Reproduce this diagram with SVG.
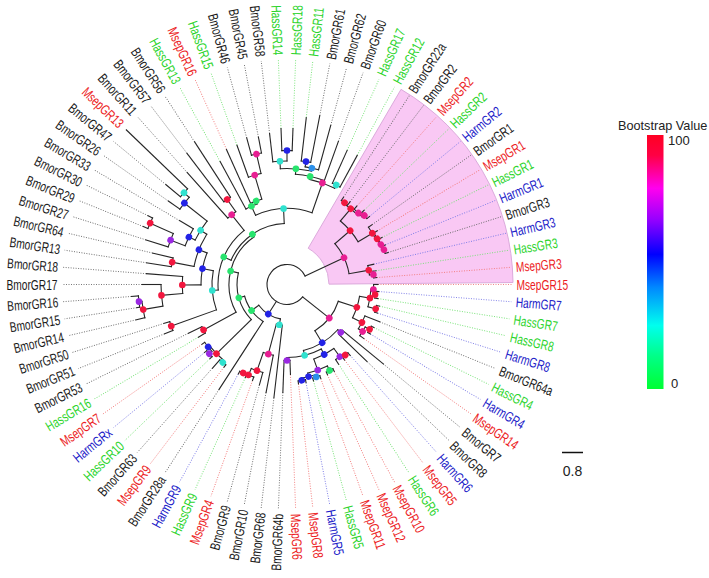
<svg xmlns="http://www.w3.org/2000/svg" width="709" height="578" viewBox="0 0 709 578">
<defs>
<linearGradient id="bs" x1="0" y1="0" x2="0" y2="1">
<stop offset="0" stop-color="#ff0022"/>
<stop offset="0.08" stop-color="#ff0044"/>
<stop offset="0.21" stop-color="#ff00ee"/>
<stop offset="0.33" stop-color="#9900ff"/>
<stop offset="0.47" stop-color="#0000ff"/>
<stop offset="0.6" stop-color="#0088ff"/>
<stop offset="0.75" stop-color="#00ffee"/>
<stop offset="0.87" stop-color="#00ff88"/>
<stop offset="1" stop-color="#00ff33"/>
</linearGradient>
<style>
text{font-family:"Liberation Sans",Arial,sans-serif}
.lab text{font-size:14px}
.tB{fill:#1a1a1a}.tM{fill:#ec1c24}.tH{fill:#2cd42c}.tA{fill:#2020c8}
.e{text-anchor:end}
.r{fill:#f2163e}.m{fill:#e81e92}.p{fill:#9a28e2}.b{fill:#2323e6}.l{fill:#2b90ea}.c{fill:#30e2cf}.g{fill:#28e46e}
.dl path{fill:none;stroke-width:.9;stroke-dasharray:1 1.5}
.dB{stroke:#6a6a6a}.dM{stroke:#f27a7a}.dH{stroke:#74e274}.dA{stroke:#7b7be6}
.a{fill:none}
</style>
</defs>
<rect width="709" height="578" fill="#fff"/>
<g transform="translate(287 284.5)">
<path id="highlight" d="M21.19 -36.26 L114.02 -195.13 A226 226 0 0 1 225.99 -1.97 L42 -0.37 A42 42 0 0 0 21.19 -36.26Z" fill="#f9c8f4" stroke="#dcaadc" stroke-width="1"/>
<g class="dl" id="tip-lines">
<path class="dM" d="M91 0H225"/>
<path class="dA" d="M92 0H225" transform="rotate(4.39)"/>
<path class="dH" d="M92 0H225" transform="rotate(8.78)"/>
<path class="dH" d="M95 0H225" transform="rotate(13.17)"/>
<path class="dA" d="M95 0H225" transform="rotate(17.56)"/>
<path class="dB" d="M100 0H225" transform="rotate(21.95)"/>
<path class="dH" d="M97 0H225" transform="rotate(26.34)"/>
<path class="dA" d="M97 0H225" transform="rotate(30.73)"/>
<path class="dM" d="M94 0H225" transform="rotate(35.12)"/>
<path class="dB" d="M125 0H225" transform="rotate(39.51)"/>
<path class="dB" d="M111 0H225" transform="rotate(43.9)"/>
<path class="dA" d="M95 0H225" transform="rotate(48.29)"/>
<path class="dM" d="M95 0H225" transform="rotate(52.68)"/>
<path class="dH" d="M95 0H225" transform="rotate(57.07)"/>
<path class="dM" d="M99 0H225" transform="rotate(61.46)"/>
<path class="dM" d="M99 0H225" transform="rotate(65.85)"/>
<path class="dM" d="M100 0H225" transform="rotate(70.24)"/>
<path class="dH" d="M100 0H225" transform="rotate(74.63)"/>
<path class="dA" d="M100 0H225" transform="rotate(79.02)"/>
<path class="dM" d="M100 0H225" transform="rotate(83.41)"/>
<path class="dM" d="M90 0H225" transform="rotate(87.8)"/>
<path class="dB" d="M108 0H225" transform="rotate(92.2)"/>
<path class="dB" d="M114 0H225" transform="rotate(96.59)"/>
<path class="dB" d="M110 0H225" transform="rotate(100.98)"/>
<path class="dB" d="M104 0H225" transform="rotate(105.37)"/>
<path class="dM" d="M102 0H225" transform="rotate(109.76)"/>
<path class="dH" d="M102 0H225" transform="rotate(114.15)"/>
<path class="dA" d="M102 0H225" transform="rotate(118.54)"/>
<path class="dB" d="M125 0H225" transform="rotate(122.93)"/>
<path class="dM" d="M104 0H225" transform="rotate(127.32)"/>
<path class="dB" d="M112 0H225" transform="rotate(131.71)"/>
<path class="dH" d="M107 0H225" transform="rotate(136.1)"/>
<path class="dA" d="M107 0H225" transform="rotate(140.49)"/>
<path class="dM" d="M104 0H225" transform="rotate(144.88)"/>
<path class="dH" d="M103 0H225" transform="rotate(149.27)"/>
<path class="dB" d="M110 0H225" transform="rotate(153.66)"/>
<path class="dB" d="M132 0H225" transform="rotate(158.05)"/>
<path class="dB" d="M129 0H225" transform="rotate(162.44)"/>
<path class="dB" d="M155 0H225" transform="rotate(166.83)"/>
<path class="dB" d="M152 0H225" transform="rotate(171.22)"/>
<path class="dB" d="M156 0H225" transform="rotate(175.61)"/>
<path class="dB" d="M145 0H225" transform="rotate(180)"/>
<path class="dB" d="M141 0H225" transform="rotate(184.39)"/>
<path class="dB" d="M142 0H225" transform="rotate(188.78)"/>
<path class="dB" d="M138 0H225" transform="rotate(193.17)"/>
<path class="dB" d="M148 0H225" transform="rotate(197.56)"/>
<path class="dB" d="M155 0H225" transform="rotate(201.95)"/>
<path class="dB" d="M155 0H225" transform="rotate(206.34)"/>
<path class="dB" d="M125 0H225" transform="rotate(210.73)"/>
<path class="dB" d="M145 0H225" transform="rotate(215.12)"/>
<path class="dB" d="M157 0H225" transform="rotate(219.51)"/>
<path class="dB" d="M150 0H225" transform="rotate(228.29)"/>
<path class="dB" d="M165 0H225" transform="rotate(232.68)"/>
<path class="dB" d="M170 0H225" transform="rotate(237.07)"/>
<path class="dH" d="M140 0H225" transform="rotate(241.46)"/>
<path class="dM" d="M148 0H225" transform="rotate(245.85)"/>
<path class="dH" d="M148 0H225" transform="rotate(250.24)"/>
<path class="dB" d="M152 0H225" transform="rotate(254.63)"/>
<path class="dB" d="M150 0H225" transform="rotate(259.02)"/>
<path class="dB" d="M152 0H225" transform="rotate(263.42)"/>
<path class="dH" d="M156 0H225" transform="rotate(267.8)"/>
<path class="dH" d="M156 0H225" transform="rotate(272.2)"/>
<path class="dH" d="M168 0H225" transform="rotate(276.59)"/>
<path class="dB" d="M172 0H225" transform="rotate(280.98)"/>
<path class="dB" d="M165 0H225" transform="rotate(285.37)"/>
<path class="dB" d="M152 0H225" transform="rotate(289.76)"/>
<path class="dH" d="M147 0H225" transform="rotate(294.15)"/>
<path class="dH" d="M147 0H225" transform="rotate(298.54)"/>
<path class="dB" d="M104 0H225" transform="rotate(302.93)"/>
<path class="dB" d="M104 0H225" transform="rotate(307.32)"/>
<path class="dM" d="M105 0H225" transform="rotate(311.71)"/>
<path class="dH" d="M107 0H225" transform="rotate(316.1)"/>
<path class="dA" d="M107 0H225" transform="rotate(320.49)"/>
<path class="dB" d="M104 0H225" transform="rotate(324.88)"/>
<path class="dM" d="M105 0H225" transform="rotate(329.27)"/>
<path class="dH" d="M106 0H225" transform="rotate(333.66)"/>
<path class="dA" d="M106 0H225" transform="rotate(338.05)"/>
<path class="dB" d="M106 0H225" transform="rotate(342.44)"/>
<path class="dA" d="M89 0H225" transform="rotate(346.83)"/>
<path class="dH" d="M90 0H225" transform="rotate(351.22)"/>
<path class="dM" d="M90 0H225" transform="rotate(355.61)"/>
</g>
<g id="connectors" fill="none" stroke="#262626" stroke-width="1.1" stroke-linecap="square">
<circle class="a" r="20" pathLength="360" stroke-dasharray="296.34 400" transform="rotate(38.48)"/>
<circle class="a" r="54" pathLength="360" stroke-dasharray="40.75 400" transform="rotate(18.11)"/>
<circle class="a" r="73.5" pathLength="360" stroke-dasharray="17.56 400" transform="rotate(9.33)"/>
<circle class="a" r="84" pathLength="360" stroke-dasharray="12.07 400" transform="rotate(3.29)"/>
<circle class="a" r="86.6" pathLength="360" stroke-dasharray="6.59 400"/>
<circle class="a" r="88.7" pathLength="360" stroke-dasharray="4.39 400" transform="rotate(4.39)"/>
<circle class="a" r="92" pathLength="360" stroke-dasharray="4.39 400" transform="rotate(13.17)"/>
<circle class="a" r="84" pathLength="360" stroke-dasharray="9.88 400" transform="rotate(21.95)"/>
<circle class="a" r="89" pathLength="360" stroke-dasharray="6.59 400" transform="rotate(28.54)"/>
<circle class="a" r="94" pathLength="360" stroke-dasharray="4.39 400" transform="rotate(26.34)"/>
<circle class="a" r="68" pathLength="360" stroke-dasharray="34.29 400" transform="rotate(41.71)"/>
<circle class="a" r="72" pathLength="360" stroke-dasharray="4.39 400" transform="rotate(39.51)"/>
<circle class="a" r="73" pathLength="360" stroke-dasharray="27.99 400" transform="rotate(62.01)"/>
<circle class="a" r="79.3" pathLength="360" stroke-dasharray="16.46 400" transform="rotate(53.78)"/>
<circle class="a" r="89.5" pathLength="360" stroke-dasharray="6.58 400" transform="rotate(50.49)"/>
<circle class="a" r="91.5" pathLength="360" stroke-dasharray="4.39 400" transform="rotate(48.29)"/>
<circle class="a" r="91" pathLength="360" stroke-dasharray="13.17 400" transform="rotate(63.66)"/>
<circle class="a" r="96" pathLength="360" stroke-dasharray="4.39 400" transform="rotate(61.46)"/>
<circle class="a" r="94.6" pathLength="360" stroke-dasharray="8.78 400" transform="rotate(72.44)"/>
<circle class="a" r="97" pathLength="360" stroke-dasharray="4.39 400" transform="rotate(70.24)"/>
<circle class="a" r="97" pathLength="360" stroke-dasharray="4.39 400" transform="rotate(79.02)"/>
<circle class="a" r="76" pathLength="360" stroke-dasharray="4.39 400" transform="rotate(87.8)"/>
<circle class="a" r="35" pathLength="360" stroke-dasharray="42.87 400" transform="rotate(100.84)"/>
<circle class="a" r="41" pathLength="360" stroke-dasharray="8.5 400" transform="rotate(96.59)"/>
<circle class="a" r="72" pathLength="360" stroke-dasharray="8.23 400" transform="rotate(100.98)"/>
<circle class="a" r="91.2" pathLength="360" stroke-dasharray="7.68 400" transform="rotate(105.37)"/>
<circle class="a" r="98.3" pathLength="360" stroke-dasharray="6.58 400" transform="rotate(109.76)"/>
<circle class="a" r="98.8" pathLength="360" stroke-dasharray="4.39 400" transform="rotate(114.15)"/>
<circle class="a" r="44" pathLength="360" stroke-dasharray="41.57 400" transform="rotate(122.93)"/>
<circle class="a" r="50" pathLength="360" stroke-dasharray="57.91 400" transform="rotate(135.55)"/>
<circle class="a" r="98.8" pathLength="360" stroke-dasharray="12.07 400" transform="rotate(129.51)"/>
<circle class="a" r="101" pathLength="360" stroke-dasharray="4.39 400" transform="rotate(127.32)"/>
<circle class="a" r="100.6" pathLength="360" stroke-dasharray="6.59 400" transform="rotate(138.29)"/>
<circle class="a" r="104" pathLength="360" stroke-dasharray="4.39 400" transform="rotate(136.1)"/>
<circle class="a" r="58" pathLength="360" stroke-dasharray="83.99 400" transform="rotate(151.46)"/>
<circle class="a" r="95" pathLength="360" stroke-dasharray="4.39 400" transform="rotate(149.27)"/>
<circle class="a" r="61" pathLength="360" stroke-dasharray="63.89 400" transform="rotate(203.51)"/>
<circle class="a" r="69" pathLength="360" stroke-dasharray="56.15 400" transform="rotate(175.44)"/>
<circle class="a" r="75" pathLength="360" stroke-dasharray="30.39 400" transform="rotate(160.24)"/>
<circle class="a" r="123" pathLength="360" stroke-dasharray="4.39 400" transform="rotate(158.05)"/>
<circle class="a" r="86" pathLength="360" stroke-dasharray="21.81 400" transform="rotate(179.73)"/>
<circle class="a" r="104.7" pathLength="360" stroke-dasharray="9.33 400" transform="rotate(175.06)"/>
<circle class="a" r="126" pathLength="360" stroke-dasharray="9.88 400" transform="rotate(170.12)"/>
<circle class="a" r="146" pathLength="360" stroke-dasharray="6.58 400" transform="rotate(166.83)"/>
<circle class="a" r="149" pathLength="360" stroke-dasharray="4.39 400" transform="rotate(171.22)"/>
<circle class="a" r="94.7" pathLength="360" stroke-dasharray="21.12 400" transform="rotate(190.98)"/>
<circle class="a" r="117" pathLength="360" stroke-dasharray="4.39 400" transform="rotate(188.78)"/>
<circle class="a" r="102" pathLength="360" stroke-dasharray="12.63 400" transform="rotate(205.79)"/>
<circle class="a" r="109" pathLength="360" stroke-dasharray="9.88 400" transform="rotate(200.85)"/>
<circle class="a" r="124.6" pathLength="360" stroke-dasharray="6.59 400" transform="rotate(197.56)"/>
<circle class="a" r="150" pathLength="360" stroke-dasharray="4.39 400" transform="rotate(201.95)"/>
<circle class="a" r="131" pathLength="360" stroke-dasharray="6.59 400" transform="rotate(215.12)"/>
<circle class="a" r="138" pathLength="360" stroke-dasharray="4.39 400" transform="rotate(219.51)"/>
<circle class="a" r="89" pathLength="360" stroke-dasharray="6.59 400" transform="rotate(228.29)"/>
<circle class="a" r="104" pathLength="360" stroke-dasharray="4.39 400" transform="rotate(232.68)"/>
<circle class="a" r="76" pathLength="360" stroke-dasharray="43.63 400" transform="rotate(245.58)"/>
<circle class="a" r="86" pathLength="360" stroke-dasharray="8.24 400" transform="rotate(241.46)"/>
<circle class="a" r="89" pathLength="360" stroke-dasharray="7.69 400" transform="rotate(245.85)"/>
<circle class="a" r="114" pathLength="360" stroke-dasharray="6.59 400" transform="rotate(250.24)"/>
<circle class="a" r="134" pathLength="360" stroke-dasharray="4.39 400" transform="rotate(254.63)"/>
<circle class="a" r="107.5" pathLength="360" stroke-dasharray="14.27 400" transform="rotate(282.07)"/>
<circle class="a" r="110.5" pathLength="360" stroke-dasharray="15.37 400" transform="rotate(274.39)"/>
<circle class="a" r="116" pathLength="360" stroke-dasharray="15.36 400" transform="rotate(266.71)"/>
<circle class="a" r="123.5" pathLength="360" stroke-dasharray="6.58 400" transform="rotate(263.42)"/>
<circle class="a" r="134" pathLength="360" stroke-dasharray="4.39 400" transform="rotate(267.8)"/>
<circle class="a" r="119" pathLength="360" stroke-dasharray="6.59 400" transform="rotate(278.78)"/>
<circle class="a" r="124.4" pathLength="360" stroke-dasharray="4.39 400" transform="rotate(276.59)"/>
<circle class="a" r="111" pathLength="360" stroke-dasharray="4.39 400" transform="rotate(294.15)"/>
<circle class="a" r="63" pathLength="360" stroke-dasharray="30.59 400" transform="rotate(319.53)"/>
<circle class="a" r="83" pathLength="360" stroke-dasharray="18.93 400" transform="rotate(310.06)"/>
<circle class="a" r="99" pathLength="360" stroke-dasharray="9.88 400" transform="rotate(305.12)"/>
<circle class="a" r="100" pathLength="360" stroke-dasharray="4.39 400" transform="rotate(302.93)"/>
<circle class="a" r="101" pathLength="360" stroke-dasharray="6.58 400" transform="rotate(311.71)"/>
<circle class="a" r="103.6" pathLength="360" stroke-dasharray="4.39 400" transform="rotate(316.1)"/>
<circle class="a" r="99.6" pathLength="360" stroke-dasharray="8.23 400" transform="rotate(324.88)"/>
<circle class="a" r="101" pathLength="360" stroke-dasharray="7.68 400" transform="rotate(329.27)"/>
<circle class="a" r="102" pathLength="360" stroke-dasharray="6.58 400" transform="rotate(333.66)"/>
<circle class="a" r="103" pathLength="360" stroke-dasharray="4.39 400" transform="rotate(338.05)"/>
<circle class="a" r="83" pathLength="360" stroke-dasharray="6.58 400" transform="rotate(346.83)"/>
<circle class="a" r="87" pathLength="360" stroke-dasharray="4.39 400" transform="rotate(351.22)"/>
<path d="M20 0H54" transform="rotate(38.48)"/>
<path d="M20 0H35" transform="rotate(122.28)"/>
<path d="M20 0H63" transform="rotate(334.82)"/>
<path d="M54 0H73.5" transform="rotate(18.11)"/>
<path d="M54 0H68" transform="rotate(58.86)"/>
<path d="M73.5 0H84" transform="rotate(9.33)"/>
<path d="M73.5 0H84" transform="rotate(26.89)"/>
<path d="M84 0H86.6" transform="rotate(3.29)"/>
<path d="M84 0H92" transform="rotate(15.37)"/>
<path d="M86.6 0H91"/>
<path d="M86.6 0H88.7" transform="rotate(6.59)"/>
<path d="M88.7 0H92" transform="rotate(4.39)"/>
<path d="M88.7 0H92" transform="rotate(8.78)"/>
<path d="M92 0H95" transform="rotate(13.17)"/>
<path d="M92 0H95" transform="rotate(17.56)"/>
<path d="M84 0H100" transform="rotate(21.95)"/>
<path d="M84 0H89" transform="rotate(31.83)"/>
<path d="M89 0H94" transform="rotate(28.54)"/>
<path d="M89 0H94" transform="rotate(35.12)"/>
<path d="M94 0H97" transform="rotate(26.34)"/>
<path d="M94 0H97" transform="rotate(30.73)"/>
<path d="M68 0H72" transform="rotate(41.71)"/>
<path d="M68 0H73" transform="rotate(76)"/>
<path d="M72 0H125" transform="rotate(39.51)"/>
<path d="M72 0H111" transform="rotate(43.9)"/>
<path d="M73 0H79.3" transform="rotate(62.01)"/>
<path d="M73 0H76" transform="rotate(90)"/>
<path d="M79.3 0H89.5" transform="rotate(53.78)"/>
<path d="M79.3 0H91" transform="rotate(70.24)"/>
<path d="M89.5 0H91.5" transform="rotate(50.49)"/>
<path d="M89.5 0H95" transform="rotate(57.07)"/>
<path d="M91.5 0H95" transform="rotate(48.29)"/>
<path d="M91.5 0H95" transform="rotate(52.68)"/>
<path d="M91 0H96" transform="rotate(63.66)"/>
<path d="M91 0H94.6" transform="rotate(76.83)"/>
<path d="M96 0H99" transform="rotate(61.46)"/>
<path d="M96 0H99" transform="rotate(65.85)"/>
<path d="M94.6 0H97" transform="rotate(72.44)"/>
<path d="M94.6 0H97" transform="rotate(81.22)"/>
<path d="M97 0H100" transform="rotate(70.24)"/>
<path d="M97 0H100" transform="rotate(74.63)"/>
<path d="M97 0H100" transform="rotate(79.02)"/>
<path d="M97 0H100" transform="rotate(83.41)"/>
<path d="M76 0H90" transform="rotate(87.8)"/>
<path d="M76 0H108" transform="rotate(92.2)"/>
<path d="M35 0H41" transform="rotate(100.84)"/>
<path d="M35 0H44" transform="rotate(143.71)"/>
<path d="M41 0H114" transform="rotate(96.59)"/>
<path d="M41 0H72" transform="rotate(105.09)"/>
<path d="M72 0H110" transform="rotate(100.98)"/>
<path d="M72 0H91.2" transform="rotate(109.21)"/>
<path d="M91.2 0H104" transform="rotate(105.37)"/>
<path d="M91.2 0H98.3" transform="rotate(113.05)"/>
<path d="M98.3 0H102" transform="rotate(109.76)"/>
<path d="M98.3 0H98.8" transform="rotate(116.34)"/>
<path d="M98.8 0H102" transform="rotate(114.15)"/>
<path d="M98.8 0H102" transform="rotate(118.54)"/>
<path d="M44 0H125" transform="rotate(122.93)"/>
<path d="M44 0H50" transform="rotate(164.5)"/>
<path d="M50 0H98.8" transform="rotate(135.55)"/>
<path d="M50 0H58" transform="rotate(193.46)"/>
<path d="M98.8 0H101" transform="rotate(129.51)"/>
<path d="M98.8 0H100.6" transform="rotate(141.58)"/>
<path d="M101 0H104" transform="rotate(127.32)"/>
<path d="M101 0H112" transform="rotate(131.71)"/>
<path d="M100.6 0H104" transform="rotate(138.29)"/>
<path d="M100.6 0H104" transform="rotate(144.88)"/>
<path d="M104 0H107" transform="rotate(136.1)"/>
<path d="M104 0H107" transform="rotate(140.49)"/>
<path d="M58 0H95" transform="rotate(151.46)"/>
<path d="M58 0H61" transform="rotate(235.45)"/>
<path d="M95 0H103" transform="rotate(149.27)"/>
<path d="M95 0H110" transform="rotate(153.66)"/>
<path d="M61 0H69" transform="rotate(203.51)"/>
<path d="M61 0H76" transform="rotate(267.4)"/>
<path d="M69 0H75" transform="rotate(175.44)"/>
<path d="M69 0H89" transform="rotate(231.59)"/>
<path d="M75 0H123" transform="rotate(160.24)"/>
<path d="M75 0H86" transform="rotate(190.63)"/>
<path d="M123 0H132" transform="rotate(158.05)"/>
<path d="M123 0H129" transform="rotate(162.44)"/>
<path d="M86 0H104.7" transform="rotate(179.73)"/>
<path d="M86 0H94.7" transform="rotate(201.54)"/>
<path d="M104.7 0H126" transform="rotate(175.06)"/>
<path d="M104.7 0H141" transform="rotate(184.39)"/>
<path d="M126 0H146" transform="rotate(170.12)"/>
<path d="M126 0H145" transform="rotate(180)"/>
<path d="M146 0H155" transform="rotate(166.83)"/>
<path d="M146 0H149" transform="rotate(173.41)"/>
<path d="M149 0H152" transform="rotate(171.22)"/>
<path d="M149 0H156" transform="rotate(175.61)"/>
<path d="M94.7 0H117" transform="rotate(190.98)"/>
<path d="M94.7 0H102" transform="rotate(212.1)"/>
<path d="M117 0H142" transform="rotate(188.78)"/>
<path d="M117 0H138" transform="rotate(193.17)"/>
<path d="M102 0H109" transform="rotate(205.79)"/>
<path d="M102 0H131" transform="rotate(218.42)"/>
<path d="M109 0H124.6" transform="rotate(200.85)"/>
<path d="M109 0H125" transform="rotate(210.73)"/>
<path d="M124.6 0H148" transform="rotate(197.56)"/>
<path d="M124.6 0H150" transform="rotate(204.15)"/>
<path d="M150 0H155" transform="rotate(201.95)"/>
<path d="M150 0H155" transform="rotate(206.34)"/>
<path d="M131 0H145" transform="rotate(215.12)"/>
<path d="M131 0H138" transform="rotate(221.71)"/>
<path d="M138 0H157" transform="rotate(219.51)"/>
<path d="M138 0H223" transform="rotate(223.9)"/>
<path d="M89 0H150" transform="rotate(228.29)"/>
<path d="M89 0H104" transform="rotate(234.88)"/>
<path d="M104 0H165" transform="rotate(232.68)"/>
<path d="M104 0H170" transform="rotate(237.07)"/>
<path d="M76 0H86" transform="rotate(245.58)"/>
<path d="M76 0H107.5" transform="rotate(289.21)"/>
<path d="M86 0H140" transform="rotate(241.46)"/>
<path d="M86 0H89" transform="rotate(249.7)"/>
<path d="M89 0H148" transform="rotate(245.85)"/>
<path d="M89 0H114" transform="rotate(253.54)"/>
<path d="M114 0H148" transform="rotate(250.24)"/>
<path d="M114 0H134" transform="rotate(256.83)"/>
<path d="M134 0H152" transform="rotate(254.63)"/>
<path d="M134 0H150" transform="rotate(259.02)"/>
<path d="M107.5 0H110.5" transform="rotate(282.07)"/>
<path d="M107.5 0H111" transform="rotate(296.34)"/>
<path d="M110.5 0H116" transform="rotate(274.39)"/>
<path d="M110.5 0H152" transform="rotate(289.76)"/>
<path d="M116 0H123.5" transform="rotate(266.71)"/>
<path d="M116 0H119" transform="rotate(282.07)"/>
<path d="M123.5 0H152" transform="rotate(263.42)"/>
<path d="M123.5 0H134" transform="rotate(270)"/>
<path d="M134 0H156" transform="rotate(267.8)"/>
<path d="M134 0H156" transform="rotate(272.2)"/>
<path d="M119 0H124.4" transform="rotate(278.78)"/>
<path d="M119 0H165" transform="rotate(285.37)"/>
<path d="M124.4 0H168" transform="rotate(276.59)"/>
<path d="M124.4 0H172" transform="rotate(280.98)"/>
<path d="M111 0H147" transform="rotate(294.15)"/>
<path d="M111 0H147" transform="rotate(298.54)"/>
<path d="M63 0H83" transform="rotate(319.53)"/>
<path d="M63 0H83" transform="rotate(350.12)"/>
<path d="M83 0H99" transform="rotate(310.06)"/>
<path d="M83 0H99.6" transform="rotate(328.99)"/>
<path d="M99 0H100" transform="rotate(305.12)"/>
<path d="M99 0H101" transform="rotate(315)"/>
<path d="M100 0H104" transform="rotate(302.93)"/>
<path d="M100 0H104" transform="rotate(307.32)"/>
<path d="M101 0H105" transform="rotate(311.71)"/>
<path d="M101 0H103.6" transform="rotate(318.29)"/>
<path d="M103.6 0H107" transform="rotate(316.1)"/>
<path d="M103.6 0H107" transform="rotate(320.49)"/>
<path d="M99.6 0H104" transform="rotate(324.88)"/>
<path d="M99.6 0H101" transform="rotate(333.11)"/>
<path d="M101 0H105" transform="rotate(329.27)"/>
<path d="M101 0H102" transform="rotate(336.95)"/>
<path d="M102 0H106" transform="rotate(333.66)"/>
<path d="M102 0H103" transform="rotate(340.24)"/>
<path d="M103 0H106" transform="rotate(338.05)"/>
<path d="M103 0H106" transform="rotate(342.44)"/>
<path d="M83 0H89" transform="rotate(346.83)"/>
<path d="M83 0H87" transform="rotate(353.41)"/>
<path d="M87 0H90" transform="rotate(351.22)"/>
<path d="M87 0H90" transform="rotate(355.61)"/>
</g>
<g id="bootstrap-nodes">
<g id="nQ0"><circle class="m" cx="54" r="3.3" transform="rotate(38.48)"/></g>
<g id="nQ1"><circle class="r" cx="73.5" r="3.3" transform="rotate(18.11)"/></g>
<g id="nQ1a"><circle class="r" cx="84" r="3.3" transform="rotate(9.33)"/></g>
<g id="nQ012"><circle class="m" cx="86.6" r="3.3" transform="rotate(3.29)"/></g>
<g id="nQ12"><circle class="r" cx="88.7" r="3.3" transform="rotate(6.59)"/></g>
<g id="nQ34"><circle class="r" cx="92" r="3.3" transform="rotate(15.37)"/></g>
<g id="nQ1b"><circle class="r" cx="84" r="3.3" transform="rotate(26.89)"/></g>
<g id="nQ678"><circle class="m" cx="89" r="3.3" transform="rotate(31.83)"/></g>
<g id="nQ67"><circle class="r" cx="94" r="3.3" transform="rotate(28.54)"/></g>
<g id="nQ2"><circle class="b" cx="68" r="3.3" transform="rotate(58.86)"/></g>
<g id="nQ2a"><circle class="p" cx="72" r="3.3" transform="rotate(41.71)"/></g>
<g id="nQ2b"><circle class="c" cx="73" r="3.3" transform="rotate(76)"/></g>
<g id="nB62"><circle class="b" cx="79.3" r="3.3" transform="rotate(62.01)"/></g>
<g id="nQ13"><circle class="p" cx="89.5" r="3.3" transform="rotate(53.78)"/></g>
<g id="nQ1112"><circle class="r" cx="91.5" r="3.3" transform="rotate(50.49)"/></g>
<g id="nP72"><circle class="p" cx="91" r="3.3" transform="rotate(70.24)"/></g>
<g id="nQ1415"><circle class="g" cx="96" r="3.3" transform="rotate(63.66)"/></g>
<g id="nCl"><circle class="b" cx="94.6" r="3.3" transform="rotate(76.83)"/></g>
<g id="nQ1617"><circle class="l" cx="97" r="3.3" transform="rotate(72.44)"/></g>
<g id="nQ1819"><circle class="b" cx="97" r="3.3" transform="rotate(81.22)"/></g>
<g id="nPu"><circle class="p" cx="76" r="3.3" transform="rotate(90)"/></g>
<g id="nN1"><circle class="b" cx="35" r="3.3" transform="rotate(122.28)"/></g>
<g id="nC1"><circle class="c" cx="41" r="3.3" transform="rotate(100.84)"/></g>
<g id="nMg2"><circle class="m" cx="72" r="3.3" transform="rotate(105.09)"/></g>
<g id="nRd"><circle class="r" cx="91.2" r="3.3" transform="rotate(109.21)"/></g>
<g id="nRx"><circle class="r" cx="98.3" r="3.3" transform="rotate(113.05)"/></g>
<g id="nRy"><circle class="r" cx="98.8" r="3.3" transform="rotate(116.34)"/></g>
<g id="nG1"><circle class="g" cx="44" r="3.3" transform="rotate(143.71)"/></g>
<g id="nG2"><circle class="g" cx="50" r="3.3" transform="rotate(164.5)"/></g>
<g id="nR135"><circle class="r" cx="98.8" r="3.3" transform="rotate(135.55)"/></g>
<g id="nCa"><circle class="c" cx="101" r="3.3" transform="rotate(129.51)"/></g>
<g id="nBa"><circle class="b" cx="100.6" r="3.3" transform="rotate(141.58)"/></g>
<g id="nPa2"><circle class="p" cx="104" r="3.3" transform="rotate(138.29)"/></g>
<g id="nG3"><circle class="g" cx="58" r="3.3" transform="rotate(193.46)"/></g>
<g id="nE"><circle class="r" cx="95" r="3.3" transform="rotate(151.46)"/></g>
<g id="nG5"><circle class="g" cx="61" r="3.3" transform="rotate(235.45)"/></g>
<g id="nG4"><circle class="g" cx="69" r="3.3" transform="rotate(203.51)"/></g>
<g id="nC2"><circle class="c" cx="75" r="3.3" transform="rotate(175.44)"/></g>
<g id="nF"><circle class="r" cx="123" r="3.3" transform="rotate(160.24)"/></g>
<g id="nB86"><circle class="b" cx="86" r="3.3" transform="rotate(190.63)"/></g>
<g id="nR179"><circle class="r" cx="104.7" r="3.3" transform="rotate(179.73)"/></g>
<g id="nR126"><circle class="r" cx="126" r="3.3" transform="rotate(175.06)"/></g>
<g id="nR146"><circle class="r" cx="146" r="3.3" transform="rotate(170.12)"/></g>
<g id="nPb2"><circle class="p" cx="149" r="3.3" transform="rotate(173.41)"/></g>
<g id="nB95"><circle class="b" cx="94.7" r="3.3" transform="rotate(201.54)"/></g>
<g id="nR117"><circle class="r" cx="117" r="3.3" transform="rotate(190.98)"/></g>
<g id="nC102"><circle class="c" cx="102" r="3.3" transform="rotate(212.1)"/></g>
<g id="nB109"><circle class="b" cx="109" r="3.3" transform="rotate(205.79)"/></g>
<g id="nP125"><circle class="p" cx="124.6" r="3.3" transform="rotate(200.85)"/></g>
<g id="nR150"><circle class="r" cx="150" r="3.3" transform="rotate(204.15)"/></g>
<g id="nB131"><circle class="b" cx="131" r="3.3" transform="rotate(218.42)"/></g>
<g id="nC138"><circle class="c" cx="138" r="3.3" transform="rotate(221.71)"/></g>
<g id="nR231"><circle class="m" cx="89" r="3.3" transform="rotate(231.59)"/></g>
<g id="nR235"><circle class="r" cx="104" r="3.3" transform="rotate(234.88)"/></g>
<g id="nT"><circle class="c" cx="76" r="3.3" transform="rotate(267.4)"/></g>
<g id="nG245"><circle class="g" cx="86" r="3.3" transform="rotate(245.58)"/></g>
<g id="nG250"><circle class="g" cx="89" r="3.3" transform="rotate(249.7)"/></g>
<g id="nK114"><circle class="m" cx="114" r="3.3" transform="rotate(253.54)"/></g>
<g id="nK134"><circle class="m" cx="134" r="3.3" transform="rotate(256.83)"/></g>
<g id="nM289"><circle class="m" cx="107.5" r="3.3" transform="rotate(289.21)"/></g>
<g id="nG282"><circle class="g" cx="110.5" r="3.3" transform="rotate(282.07)"/></g>
<g id="nG274"><circle class="g" cx="116" r="3.3" transform="rotate(274.39)"/></g>
<g id="nC267"><circle class="c" cx="123.5" r="3.3" transform="rotate(266.71)"/></g>
<g id="nB270"><circle class="b" cx="134" r="3.3" transform="rotate(270)"/></g>
<g id="nL282"><circle class="l" cx="119" r="3.3" transform="rotate(282.07)"/></g>
<g id="nB279"><circle class="b" cx="124.4" r="3.3" transform="rotate(278.78)"/></g>
<g id="nC296"><circle class="c" cx="111" r="3.3" transform="rotate(296.34)"/></g>
<g id="nP0"><circle class="m" cx="63" r="3.3" transform="rotate(334.82)"/></g>
<g id="nP1"><circle class="r" cx="83" r="3.3" transform="rotate(319.53)"/></g>
<g id="nPa"><circle class="r" cx="99" r="3.3" transform="rotate(310.06)"/></g>
<g id="nA1"><circle class="r" cx="100" r="3.3" transform="rotate(305.12)"/></g>
<g id="nA2"><circle class="m" cx="101" r="3.3" transform="rotate(315)"/></g>
<g id="nA3"><circle class="m" cx="103.6" r="3.3" transform="rotate(318.29)"/></g>
<g id="nPb"><circle class="r" cx="99.6" r="3.3" transform="rotate(328.99)"/></g>
<g id="nX"><circle class="r" cx="101" r="3.3" transform="rotate(333.11)"/></g>
<g id="nY"><circle class="m" cx="102" r="3.3" transform="rotate(336.95)"/></g>
<g id="nZ"><circle class="m" cx="103" r="3.3" transform="rotate(340.24)"/></g>
<g id="nP2"><circle class="r" cx="83" r="3.3" transform="rotate(350.12)"/></g>
<g id="nW"><circle class="m" cx="87" r="3.3" transform="rotate(353.41)"/></g>
</g>
<g class="lab" id="labels">
<g id="MsepGR15"><text class="tM" transform="rotate(0) translate(229.5 0) scale(.73 1)" dy=".36em">MsepGR15</text></g>
<g id="HarmGR7"><text class="tA" transform="rotate(4.39) translate(229.5 0) scale(.73 1)" dy=".36em">HarmGR7</text></g>
<g id="HassGR7"><text class="tH" transform="rotate(8.78) translate(229.5 0) scale(.73 1)" dy=".36em">HassGR7</text></g>
<g id="HassGR8"><text class="tH" transform="rotate(13.17) translate(229.5 0) scale(.73 1)" dy=".36em">HassGR8</text></g>
<g id="HarmGR8"><text class="tA" transform="rotate(17.56) translate(229.5 0) scale(.73 1)" dy=".36em">HarmGR8</text></g>
<g id="BmorGR64a"><text class="tB" transform="rotate(21.95) translate(229.5 0) scale(.73 1)" dy=".36em">BmorGR64a</text></g>
<g id="HassGR4"><text class="tH" transform="rotate(26.34) translate(229.5 0) scale(.73 1)" dy=".36em">HassGR4</text></g>
<g id="HarmGR4"><text class="tA" transform="rotate(30.73) translate(229.5 0) scale(.73 1)" dy=".36em">HarmGR4</text></g>
<g id="MsepGR14"><text class="tM" transform="rotate(35.12) translate(229.5 0) scale(.73 1)" dy=".36em">MsepGR14</text></g>
<g id="BmorGR7"><text class="tB" transform="rotate(39.51) translate(229.5 0) scale(.73 1)" dy=".36em">BmorGR7</text></g>
<g id="BmorGR8"><text class="tB" transform="rotate(43.9) translate(229.5 0) scale(.73 1)" dy=".36em">BmorGR8</text></g>
<g id="HarmGR6"><text class="tA" transform="rotate(48.29) translate(229.5 0) scale(.73 1)" dy=".36em">HarmGR6</text></g>
<g id="MsepGR5"><text class="tM" transform="rotate(52.68) translate(229.5 0) scale(.73 1)" dy=".36em">MsepGR5</text></g>
<g id="HassGR6"><text class="tH" transform="rotate(57.07) translate(229.5 0) scale(.73 1)" dy=".36em">HassGR6</text></g>
<g id="MsepGR10"><text class="tM" transform="rotate(61.46) translate(229.5 0) scale(.73 1)" dy=".36em">MsepGR10</text></g>
<g id="MsepGR12"><text class="tM" transform="rotate(65.85) translate(229.5 0) scale(.73 1)" dy=".36em">MsepGR12</text></g>
<g id="MsepGR11"><text class="tM" transform="rotate(70.24) translate(229.5 0) scale(.73 1)" dy=".36em">MsepGR11</text></g>
<g id="HassGR5"><text class="tH" transform="rotate(74.63) translate(229.5 0) scale(.73 1)" dy=".36em">HassGR5</text></g>
<g id="HarmGR5"><text class="tA" transform="rotate(79.02) translate(229.5 0) scale(.73 1)" dy=".36em">HarmGR5</text></g>
<g id="MsepGR8"><text class="tM" transform="rotate(83.41) translate(229.5 0) scale(.73 1)" dy=".36em">MsepGR8</text></g>
<g id="MsepGR6"><text class="tM" transform="rotate(87.8) translate(229.5 0) scale(.73 1)" dy=".36em">MsepGR6</text></g>
<g id="BmorGR64b"><text class="tB e" transform="rotate(92.2) translate(229.5 0) rotate(180) scale(.73 1)" dy=".36em">BmorGR64b</text></g>
<g id="BmorGR68"><text class="tB e" transform="rotate(96.59) translate(229.5 0) rotate(180) scale(.73 1)" dy=".36em">BmorGR68</text></g>
<g id="BmorGR10"><text class="tB e" transform="rotate(100.98) translate(229.5 0) rotate(180) scale(.73 1)" dy=".36em">BmorGR10</text></g>
<g id="BmorGR9"><text class="tB e" transform="rotate(105.37) translate(229.5 0) rotate(180) scale(.73 1)" dy=".36em">BmorGR9</text></g>
<g id="MsepGR4"><text class="tM e" transform="rotate(109.76) translate(229.5 0) rotate(180) scale(.73 1)" dy=".36em">MsepGR4</text></g>
<g id="HassGR9"><text class="tH e" transform="rotate(114.15) translate(229.5 0) rotate(180) scale(.73 1)" dy=".36em">HassGR9</text></g>
<g id="HarmGR9"><text class="tA e" transform="rotate(118.54) translate(229.5 0) rotate(180) scale(.73 1)" dy=".36em">HarmGR9</text></g>
<g id="BmorGR28a"><text class="tB e" transform="rotate(122.93) translate(229.5 0) rotate(180) scale(.73 1)" dy=".36em">BmorGR28a</text></g>
<g id="MsepGR9"><text class="tM e" transform="rotate(127.32) translate(229.5 0) rotate(180) scale(.73 1)" dy=".36em">MsepGR9</text></g>
<g id="BmorGR63"><text class="tB e" transform="rotate(131.71) translate(229.5 0) rotate(180) scale(.73 1)" dy=".36em">BmorGR63</text></g>
<g id="HassGR10"><text class="tH e" transform="rotate(136.1) translate(229.5 0) rotate(180) scale(.73 1)" dy=".36em">HassGR10</text></g>
<g id="HarmGRx"><text class="tA e" transform="rotate(140.49) translate(229.5 0) rotate(180) scale(.73 1)" dy=".36em">HarmGRx</text></g>
<g id="MsepGR7"><text class="tM e" transform="rotate(144.88) translate(229.5 0) rotate(180) scale(.73 1)" dy=".36em">MsepGR7</text></g>
<g id="HassGR16"><text class="tH e" transform="rotate(149.27) translate(229.5 0) rotate(180) scale(.73 1)" dy=".36em">HassGR16</text></g>
<g id="BmorGR53"><text class="tB e" transform="rotate(153.66) translate(229.5 0) rotate(180) scale(.73 1)" dy=".36em">BmorGR53</text></g>
<g id="BmorGR51"><text class="tB e" transform="rotate(158.05) translate(229.5 0) rotate(180) scale(.73 1)" dy=".36em">BmorGR51</text></g>
<g id="BmorGR50"><text class="tB e" transform="rotate(162.44) translate(229.5 0) rotate(180) scale(.73 1)" dy=".36em">BmorGR50</text></g>
<g id="BmorGR14"><text class="tB e" transform="rotate(166.83) translate(229.5 0) rotate(180) scale(.73 1)" dy=".36em">BmorGR14</text></g>
<g id="BmorGR15"><text class="tB e" transform="rotate(171.22) translate(229.5 0) rotate(180) scale(.73 1)" dy=".36em">BmorGR15</text></g>
<g id="BmorGR16"><text class="tB e" transform="rotate(175.61) translate(229.5 0) rotate(180) scale(.73 1)" dy=".36em">BmorGR16</text></g>
<g id="BmorGR17"><text class="tB e" transform="rotate(180) translate(229.5 0) rotate(180) scale(.73 1)" dy=".36em">BmorGR17</text></g>
<g id="BmorGR18"><text class="tB e" transform="rotate(184.39) translate(229.5 0) rotate(180) scale(.73 1)" dy=".36em">BmorGR18</text></g>
<g id="BmorGR13"><text class="tB e" transform="rotate(188.78) translate(229.5 0) rotate(180) scale(.73 1)" dy=".36em">BmorGR13</text></g>
<g id="BmorGR64"><text class="tB e" transform="rotate(193.17) translate(229.5 0) rotate(180) scale(.73 1)" dy=".36em">BmorGR64</text></g>
<g id="BmorGR27"><text class="tB e" transform="rotate(197.56) translate(229.5 0) rotate(180) scale(.73 1)" dy=".36em">BmorGR27</text></g>
<g id="BmorGR29"><text class="tB e" transform="rotate(201.95) translate(229.5 0) rotate(180) scale(.73 1)" dy=".36em">BmorGR29</text></g>
<g id="BmorGR30"><text class="tB e" transform="rotate(206.34) translate(229.5 0) rotate(180) scale(.73 1)" dy=".36em">BmorGR30</text></g>
<g id="BmorGR33"><text class="tB e" transform="rotate(210.73) translate(229.5 0) rotate(180) scale(.73 1)" dy=".36em">BmorGR33</text></g>
<g id="BmorGR26"><text class="tB e" transform="rotate(215.12) translate(229.5 0) rotate(180) scale(.73 1)" dy=".36em">BmorGR26</text></g>
<g id="BmorGR47"><text class="tB e" transform="rotate(219.51) translate(229.5 0) rotate(180) scale(.73 1)" dy=".36em">BmorGR47</text></g>
<g id="MsepGR13"><text class="tM e" transform="rotate(223.9) translate(229.5 0) rotate(180) scale(.73 1)" dy=".36em">MsepGR13</text></g>
<g id="BmorGR11"><text class="tB e" transform="rotate(228.29) translate(229.5 0) rotate(180) scale(.73 1)" dy=".36em">BmorGR11</text></g>
<g id="BmorGR57"><text class="tB e" transform="rotate(232.68) translate(229.5 0) rotate(180) scale(.73 1)" dy=".36em">BmorGR57</text></g>
<g id="BmorGR56"><text class="tB e" transform="rotate(237.07) translate(229.5 0) rotate(180) scale(.73 1)" dy=".36em">BmorGR56</text></g>
<g id="HassGR13"><text class="tH e" transform="rotate(241.46) translate(229.5 0) rotate(180) scale(.73 1)" dy=".36em">HassGR13</text></g>
<g id="MsepGR16"><text class="tM e" transform="rotate(245.85) translate(229.5 0) rotate(180) scale(.73 1)" dy=".36em">MsepGR16</text></g>
<g id="HassGR15"><text class="tH e" transform="rotate(250.24) translate(229.5 0) rotate(180) scale(.73 1)" dy=".36em">HassGR15</text></g>
<g id="BmorGR46"><text class="tB e" transform="rotate(254.63) translate(229.5 0) rotate(180) scale(.73 1)" dy=".36em">BmorGR46</text></g>
<g id="BmorGR45"><text class="tB e" transform="rotate(259.02) translate(229.5 0) rotate(180) scale(.73 1)" dy=".36em">BmorGR45</text></g>
<g id="BmorGR58"><text class="tB e" transform="rotate(263.42) translate(229.5 0) rotate(180) scale(.73 1)" dy=".36em">BmorGR58</text></g>
<g id="HassGR14"><text class="tH e" transform="rotate(267.8) translate(229.5 0) rotate(180) scale(.73 1)" dy=".36em">HassGR14</text></g>
<g id="HassGR18"><text class="tH" transform="rotate(272.2) translate(229.5 0) scale(.73 1)" dy=".36em">HassGR18</text></g>
<g id="HassGR11"><text class="tH" transform="rotate(276.59) translate(229.5 0) scale(.73 1)" dy=".36em">HassGR11</text></g>
<g id="BmorGR61"><text class="tB" transform="rotate(280.98) translate(229.5 0) scale(.73 1)" dy=".36em">BmorGR61</text></g>
<g id="BmorGR62"><text class="tB" transform="rotate(285.37) translate(229.5 0) scale(.73 1)" dy=".36em">BmorGR62</text></g>
<g id="BmorGR60"><text class="tB" transform="rotate(289.76) translate(229.5 0) scale(.73 1)" dy=".36em">BmorGR60</text></g>
<g id="HassGR17"><text class="tH" transform="rotate(294.15) translate(229.5 0) scale(.73 1)" dy=".36em">HassGR17</text></g>
<g id="HassGR12"><text class="tH" transform="rotate(298.54) translate(229.5 0) scale(.73 1)" dy=".36em">HassGR12</text></g>
<g id="BmorGR22a"><text class="tB" transform="rotate(302.93) translate(229.5 0) scale(.73 1)" dy=".36em">BmorGR22a</text></g>
<g id="BmorGR2"><text class="tB" transform="rotate(307.32) translate(229.5 0) scale(.73 1)" dy=".36em">BmorGR2</text></g>
<g id="MsepGR2"><text class="tM" transform="rotate(311.71) translate(229.5 0) scale(.73 1)" dy=".36em">MsepGR2</text></g>
<g id="HassGR2"><text class="tH" transform="rotate(316.1) translate(229.5 0) scale(.73 1)" dy=".36em">HassGR2</text></g>
<g id="HarmGR2"><text class="tA" transform="rotate(320.49) translate(229.5 0) scale(.73 1)" dy=".36em">HarmGR2</text></g>
<g id="BmorGR1"><text class="tB" transform="rotate(324.88) translate(229.5 0) scale(.73 1)" dy=".36em">BmorGR1</text></g>
<g id="MsepGR1"><text class="tM" transform="rotate(329.27) translate(229.5 0) scale(.73 1)" dy=".36em">MsepGR1</text></g>
<g id="HassGR1"><text class="tH" transform="rotate(333.66) translate(229.5 0) scale(.73 1)" dy=".36em">HassGR1</text></g>
<g id="HarmGR1"><text class="tA" transform="rotate(338.05) translate(229.5 0) scale(.73 1)" dy=".36em">HarmGR1</text></g>
<g id="BmorGR3"><text class="tB" transform="rotate(342.44) translate(229.5 0) scale(.73 1)" dy=".36em">BmorGR3</text></g>
<g id="HarmGR3"><text class="tA" transform="rotate(346.83) translate(229.5 0) scale(.73 1)" dy=".36em">HarmGR3</text></g>
<g id="HassGR3"><text class="tH" transform="rotate(351.22) translate(229.5 0) scale(.73 1)" dy=".36em">HassGR3</text></g>
<g id="MsepGR3"><text class="tM" transform="rotate(355.61) translate(229.5 0) scale(.73 1)" dy=".36em">MsepGR3</text></g>
</g>
</g>
<g id="legend">
<text x="618" y="130" font-size="12.7" fill="#222">Bootstrap Value</text>
<rect x="647" y="135" width="16.5" height="254" fill="url(#bs)"/>
<text x="668" y="145" font-size="13" fill="#222">100</text>
<text x="671" y="388" font-size="13" fill="#222">0</text>
</g>
<g id="scale-bar">
<line x1="562" y1="452.5" x2="583" y2="452.5" stroke="#111" stroke-width="1.5"/>
<text x="572.5" y="476" font-size="14" text-anchor="middle" fill="#222">0.8</text>
</g>
</svg>
